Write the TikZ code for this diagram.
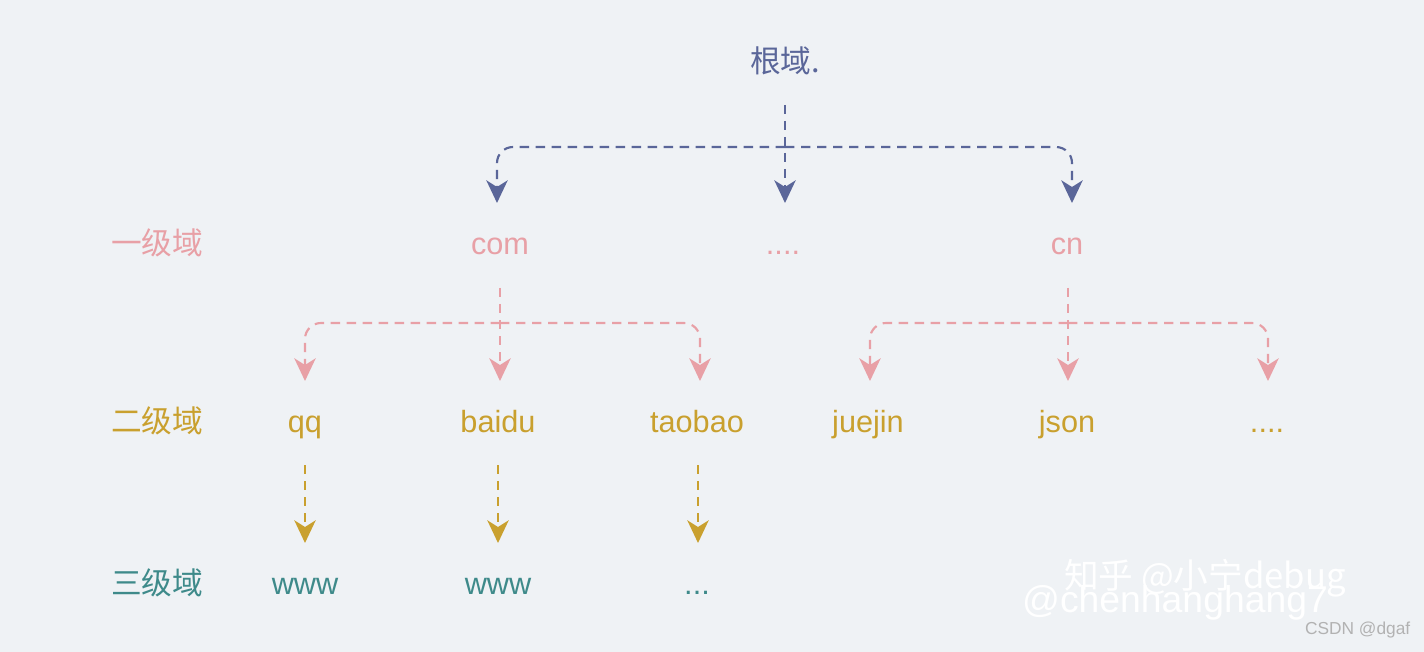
\documentclass[tikz,border=0pt]{standalone}
\usepackage{fontspec}
\setmainfont{Liberation Sans}
\newfontfamily\cjk{Noto Sans CJK SC}
\usetikzlibrary{arrows.meta}
\definecolor{bg}{HTML}{EFF2F5}
\definecolor{cb}{HTML}{5A6699}
\definecolor{cp}{HTML}{E8A0A6}
\definecolor{cg}{HTML}{C9A02E}
\definecolor{ct}{HTML}{3E8A8A}
\begin{document}
\begin{tikzpicture}[x=0.75pt,y=-0.75pt,
  lab/.style={font=\fontsize{23}{26}\selectfont,anchor=base},
  zh/.style={font=\cjk\fontsize{23}{26}\selectfont,anchor=base},
  con/.style={dashed,dash pattern=on 7pt off 5pt,line width=1.6pt,rounded corners=12pt},
  arr/.style={con,-{Stealth[length=17pt,width=16pt,inset=5pt]}}]
\fill[bg] (0,0) rectangle (1424,652);
\useasboundingbox (0,0) rectangle (1424,652);
% texts
\node[zh,text=cb] (root) at (785,73) {根域.};
\node[zh,text=cp] (l1) at (157,255) {一级域};
\node[zh,text=cg] (l2) at (157,432) {二级域};
\node[zh,text=ct] (l3) at (157,594) {三级域};
\node[lab,text=cp] (com) at (500,255) {com};
\node[lab,text=cp] (dots1) at (783,255) {....};
\node[lab,text=cp] (cn) at (1067,255) {cn};
\node[lab,text=cg] (qq) at (305,432) {qq};
\node[lab,text=cg] (baidu) at (498,432) {baidu};
\node[lab,text=cg] (taobao) at (697,432) {taobao};
\node[lab,text=cg] (juejin) at (868,432) {juejin};
\node[lab,text=cg] (json) at (1067,432) {json};
\node[lab,text=cg] (dots2) at (1267,432) {....};
\node[lab,text=ct] (w1) at (305,594) {www};
\node[lab,text=ct] (w2) at (498,594) {www};
\node[lab,text=ct] (dots3) at (697,594) {...};
% coordinates
\coordinate (r0) at (785,105);
\coordinate (rj) at (785,147);
\coordinate (a1) at (497,203); \coordinate (a2) at (785,203); \coordinate (a3) at (1072,203);
\coordinate (c0) at (500,288); \coordinate (cj) at (500,323);
\coordinate (b1) at (305,381); \coordinate (b2) at (500,381); \coordinate (b3) at (700,381);
\coordinate (n0) at (1068,288); \coordinate (nj) at (1068,323);
\coordinate (d1) at (870,381); \coordinate (d2) at (1068,381); \coordinate (d3) at (1268,381);
\coordinate (q0) at (305,465); \coordinate (q1) at (305,543);
\coordinate (bd0) at (498,465); \coordinate (bd1) at (498,543);
\coordinate (t0) at (698,465); \coordinate (t1) at (698,543);
% connectors
\draw[arr,cb] (r0) -- (a2);
\draw[arr,cb] (rj) -| (a1);
\draw[arr,cb] (rj) -| (a3);
\draw[arr,cp] (c0) -- (b2);
\draw[arr,cp] (cj) -| (b1);
\draw[arr,cp] (cj) -| (b3);
\draw[arr,cp] (n0) -- (d2);
\draw[arr,cp] (nj) -| (d1);
\draw[arr,cp] (nj) -| (d3);
\draw[arr,cg] (q0) -- (q1);
\draw[arr,cg] (bd0) -- (bd1);
\draw[arr,cg] (t0) -- (t1);
% watermarks
\node[text=white,font=\cjk\fontsize{26}{30}\selectfont] (wm1) at (1205,578) {知乎 @小宁debug};
\node[text=white,font=\fontsize{28}{32}\selectfont] (wm2) at (1175,603) {@chenhanghang7};
\node[text=gray!60,font=\fontsize{13}{15}\selectfont,anchor=east] (wm3) at (1415,630) {CSDN @dgaf};
\end{tikzpicture}
\end{document}
